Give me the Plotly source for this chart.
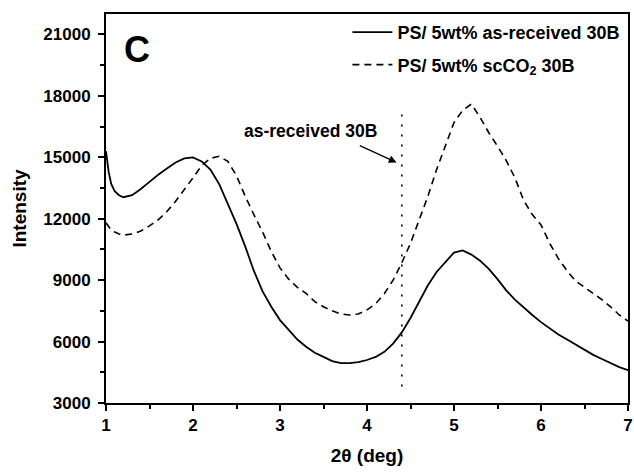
import plotly.graph_objects as go

two_theta = [1.0, 1.03, 1.06, 1.1, 1.15, 1.2, 1.3, 1.4, 1.5, 1.6, 1.7, 1.8, 1.9, 2.0,
             2.1, 2.2, 2.3, 2.4, 2.5, 2.6, 2.7, 2.8, 2.9, 3.0, 3.1, 3.2, 3.3, 3.4, 3.5,
             3.6, 3.7, 3.8, 3.9, 4.0, 4.1, 4.2, 4.3, 4.4, 4.5, 4.6, 4.7, 4.8, 4.9, 5.0,
             5.1, 5.2, 5.3, 5.4, 5.5, 5.6, 5.7, 5.8, 5.9, 6.0, 6.1, 6.2, 6.3, 6.4, 6.5,
             6.6, 6.7, 6.8, 6.9, 7.0]

as_received = [15300, 14300, 13700, 13350, 13150, 13050, 13150, 13450, 13800, 14150,
               14450, 14750, 14950, 15000, 14800, 14400, 13700, 12700, 11750, 10650,
               9450, 8450, 7700, 7050, 6550, 6100, 5750, 5450, 5250, 5050, 4950, 4950,
               5000, 5100, 5250, 5500, 5900, 6450, 7150, 7950, 8750, 9400, 9900, 10350,
               10450, 10250, 9950, 9550, 9050, 8500, 8050, 7650, 7300, 6950, 6650, 6350,
               6100, 5850, 5600, 5350, 5150, 4950, 4750, 4600]

scco2 = [11800, 11600, 11450, 11350, 11250, 11200, 11250, 11400, 11650, 11950, 12350,
         12850, 13400, 14000, 14600, 14950, 15050, 14800, 14100, 13100, 12200, 11350,
         10400, 9600, 9050, 8650, 8350, 7950, 7700, 7500, 7350, 7300, 7350, 7550, 7850,
         8350, 9000, 9850, 10800, 11900, 13100, 14400, 15600, 16700, 17300, 17600, 16950,
         16200, 15550, 14850, 14000, 12900, 12200, 11700, 10800, 10050, 9450, 8950, 8650,
         8350, 8050, 7700, 7300, 7000]

x_ticks = [1, 2, 3, 4, 5, 6, 7]
y_ticks = [3000, 6000, 9000, 12000, 15000, 18000, 21000]

marker_x = 4.4
marker_y = [3800, 17200]
arrow_head = (4.34, 14750)
arrow_tail = (3.9, 15600)
label_pos = (3.35, 16300)

FONT = "Liberation Sans, Arial, sans-serif"

fig = go.Figure()
fig.add_trace(go.Scatter(x=two_theta, y=as_received, mode="lines",
                         name="<b>PS/ 5wt% as-received 30B</b>", legendgroup="a",
                         line=dict(color="black", width=1.8)))
fig.add_trace(go.Scatter(x=two_theta, y=scco2, mode="lines",
                         name="<b>PS/ 5wt% scCO<sub>2</sub> 30B</b>", legendgroup="b",
                         line=dict(color="black", width=1.6, dash="7px,5px")))

fig.add_shape(type="line", x0=marker_x, x1=marker_x, y0=marker_y[0], y1=marker_y[1],
              xref="x", yref="y", line=dict(color="black", width=1.6, dash="2px,8px"))

fig.add_annotation(x=arrow_head[0], y=arrow_head[1], ax=arrow_tail[0], ay=arrow_tail[1],
                   xref="x", yref="y", axref="x", ayref="y", text="", showarrow=True,
                   arrowhead=2, arrowsize=1.2, arrowwidth=1.3, arrowcolor="black")
fig.add_annotation(x=label_pos[0], y=label_pos[1], xref="x", yref="y",
                   text="<b>as-received 30B</b>", showarrow=False,
                   font=dict(family=FONT, size=17.5, color="black"))
fig.add_annotation(x=0.03, y=0.967, xref="paper", yref="paper", xanchor="left", yanchor="top",
                   text="<b>C</b>", showarrow=False,
                   font=dict(family=FONT, size=36, color="black"))

axis_common = dict(showline=True, linewidth=2, linecolor="black", mirror=True,
                   ticks="outside", tickwidth=2, ticklen=6, tickcolor="black",
                   showgrid=False, zeroline=False, automargin=False,
                   tickfont=dict(family=FONT, size=17, color="black"))

fig.update_xaxes(range=[1, 7], tickvals=x_ticks, ticktext=[f"<b>{v}</b>" for v in x_ticks],
                 minor=dict(dtick=0.5, tick0=1, ticks="outside", ticklen=4, tickwidth=2,
                            tickcolor="black"),
                 title=dict(text="<b>2θ (deg)</b>", font=dict(family=FONT, size=19, color="black"),
                            standoff=14),
                 **axis_common)
fig.update_yaxes(range=[3000, 22000], tickvals=y_ticks, ticktext=[f"<b>{v}</b>" for v in y_ticks],
                 minor=dict(dtick=1500, tick0=3000, ticks="outside", ticklen=4, tickwidth=2,
                            tickcolor="black"),
                 ticklabelstandoff=4,
                 title=dict(text="<b>Intensity</b>", font=dict(family=FONT, size=19, color="black"),
                            standoff=12),
                 **axis_common)

fig.update_layout(width=634, height=475, margin=dict(l=106, r=6, t=14, b=72),
                  plot_bgcolor="white", paper_bgcolor="white",
                  font=dict(family=FONT, color="black"),
                  legend=dict(x=0.995, y=1.0, xanchor="right", yanchor="top",
                              bgcolor="rgba(0,0,0,0)", font=dict(family=FONT, size=18, color="black"),
                              tracegroupgap=6, itemwidth=40))

fig.write_html("out.html", config={"displayModeBar": False},
               post_script="document.body.style.margin='0';")
